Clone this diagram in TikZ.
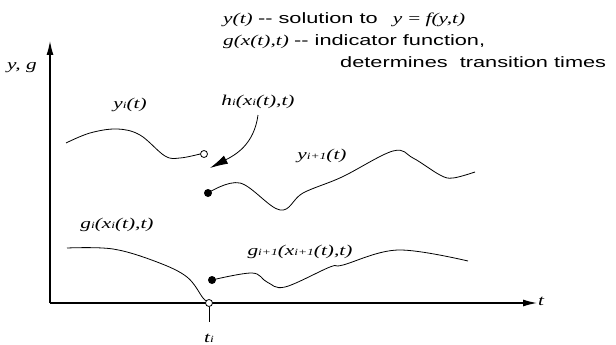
\documentclass[tikz,border=0pt]{standalone}
\usepackage{fontspec}
\setmainfont{Liberation Serif}[FakeStretch=1.42]
\newfontfamily\notefont{Liberation Sans}[FakeStretch=1.45]
\usetikzlibrary{arrows.meta}
\newcommand{\ix}[1]{{\fontsize{9.5}{9.5}\selectfont#1}}
\newcommand{\mi}[1]{{\rmfamily\itshape#1}}
\tikzset{
  curve/.style={line width=0.8pt},
  axis/.style={-{Latex[length=14pt,width=7pt]}, line width=1.2pt},
  pointer/.style={-{Latex[length=18pt,width=9pt]}, line width=0.8pt},
  open dot/.style={circle, draw, fill=white, inner sep=0pt, minimum size=7pt, line width=0.8pt},
  full dot/.style={circle, fill=black, inner sep=0pt, minimum size=8pt},
  math label/.style={font=\fontsize{15}{15}\selectfont\rmfamily\itshape, inner sep=0pt},
  note/.style={font=\fontsize{15}{15}\selectfont, inner sep=0pt, anchor=base west}
}
\begin{document}
\begin{tikzpicture}[x=1pt, y=-1pt]
  \useasboundingbox (0,0) rectangle (616,345);

  % axes
  \coordinate (origin) at (50,303);
  \coordinate (ytip) at (50,41);
  \coordinate (xtip) at (537,303);
  \draw[axis] (origin) -- (ytip);
  \draw[axis] (origin) -- (xtip);
  \node[math label] (ylab) at (22,68) {y, g};
  \node[math label] (tlab) at (541,301) {t};

  % transition point
  \node[open dot] (ti) at (209,303) {};
  \node[math label] (tilab) at (209,338) {t\ix{i}};
  \draw[curve] (ti.south) -- (209,322);

  % y_i and g_i
  \node[open dot] (yiend) at (204,154) {};
  \draw[curve] plot[smooth, tension=0.6] coordinates
    {(66,143) (90,133) (117,129) (140,135) (165,156) (180,158) (yiend.west)};
  \draw[curve] plot[smooth, tension=0.6] coordinates
    {(67,248) (113,249) (157,262) (187,277) (203,298) (ti.north west)};
  \node[math label] (yilab) at (130,105) {y\ix{i}(t)};
  \node[math label] (gilab) at (117,225) {g\ix{i}(x\ix{i}(t),t)};

  % y_{i+1} and g_{i+1}
  \node[full dot] (ynext) at (208,193) {};
  \node[full dot] (gnext) at (212,280) {};
  \draw[curve] plot[smooth, tension=0.6] coordinates
    {(ynext) (240,183) (280,210) (303,193) (342,177) (393,151) (413,158)
     (440,175) (453,178) (475,172)};
  \draw[curve] plot[smooth, tension=0.6] coordinates
    {(gnext) (252,273) (267,282) (285,287) (330,267) (343,265) (398,250) (468,261)};
  \node[math label] (ynextlab) at (322,156) {y\ix{i+1}(t)};
  \node[math label] (gnextlab) at (300,252) {g\ix{i+1}(x\ix{i+1}(t),t)};

  % indicator function pointer
  \node[math label] (hilab) at (258,102) {h\ix{i}(x\ix{i}(t),t)};
  \coordinate (hitip) at (210,168);
  \draw[pointer] (hilab.south) ++(0,6) .. controls (254,145) and (235,155) .. (hitip);

  % notes
  \node[note] (note1) at (223,24) {\mi{y(t)}\ \notefont-- solution to\quad\mi{y} \rmfamily= \mi{f(y,t)}};
  \node[note] (note2) at (223,46) {\mi{g(x(t),t)}\ \notefont-- indicator function,};
  \node[note] (note3) at (340,68) {\notefont determines\ \ transition times};
\end{tikzpicture}
\end{document}
